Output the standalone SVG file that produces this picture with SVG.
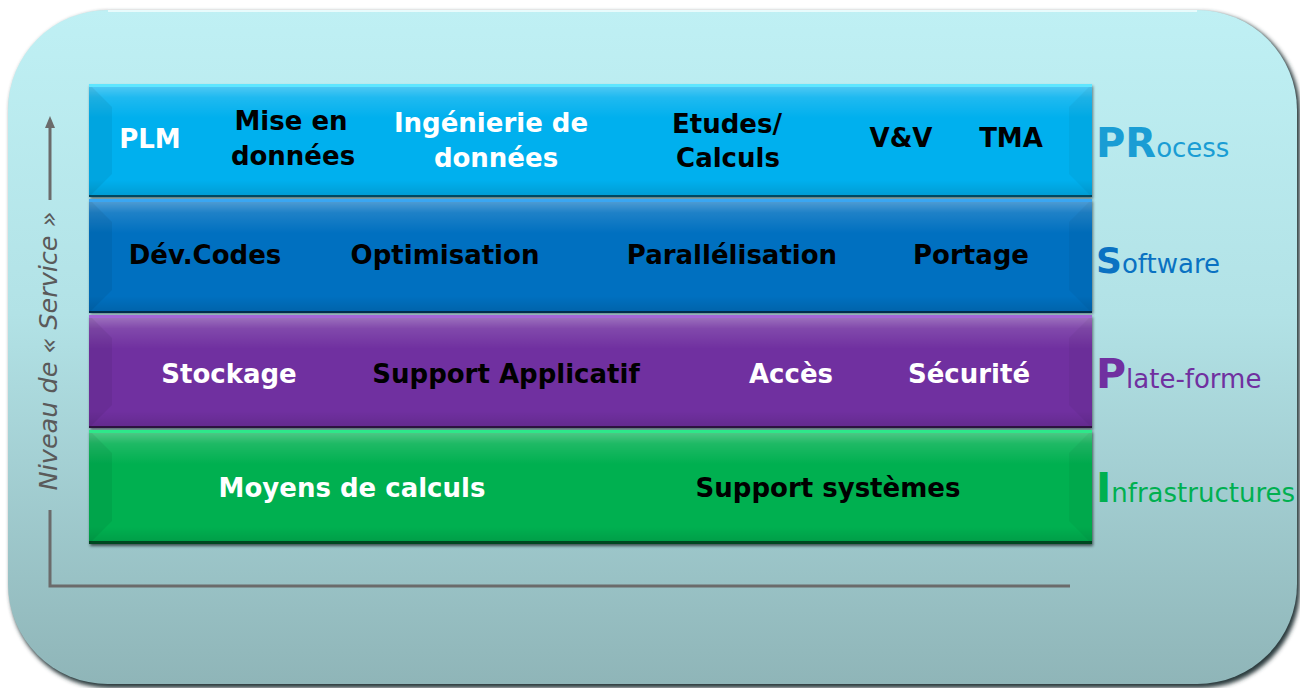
<svg xmlns="http://www.w3.org/2000/svg" width="1300" height="688" viewBox="0 0 1300 688">
  <defs>
    <linearGradient id="bg" x1="0" y1="0" x2="0" y2="1">
      <stop offset="0" stop-color="#bff0f4"/>
      <stop offset="0.45" stop-color="#b2e2e6"/>
      <stop offset="1" stop-color="#8fb5b8"/>
    </linearGradient>
    <linearGradient id="gloss" x1="0" y1="0" x2="0" y2="1">
      <stop offset="0" stop-color="#ffffff" stop-opacity="0.35"/>
      <stop offset="0.12" stop-color="#ffffff" stop-opacity="0.12"/>
      <stop offset="0.3" stop-color="#ffffff" stop-opacity="0"/>
      <stop offset="0.85" stop-color="#000000" stop-opacity="0"/>
      <stop offset="1" stop-color="#000000" stop-opacity="0.12"/>
    </linearGradient>
    <filter id="blur" x="-5%" y="-5%" width="110%" height="110%">
      <feGaussianBlur stdDeviation="2"/>
    </filter>
    <filter id="bandshadow" x="-5%" y="-20%" width="110%" height="140%">
      <feGaussianBlur stdDeviation="1.5"/>
    </filter>
  </defs>
  <style>
    .lbl { font-family: "DejaVu Sans", Verdana, sans-serif; font-weight: bold; font-size: 26px; text-anchor: middle; }
    .w { fill: #ffffff; }
    .k { fill: #000000; }
    .side { font-family: "DejaVu Sans", Verdana, sans-serif; font-size: 26px; }
    .big { font-weight: bold; }
    .axis { stroke: #6b6b6b; stroke-width: 3; fill: none; }
    .edge { fill: #000000; opacity: 0.55; }
    .bevL { fill: #000000; opacity: 0.06; }
    .bevR { fill: #000000; opacity: 0.04; }
  </style>

  <!-- background panel -->
  <g id="panel">
    <rect x="10" y="12" width="1290" height="676" rx="100" ry="100" fill="#2a3a3c" filter="url(#blur)"/>
    <rect x="8" y="10" width="1289" height="674" rx="100" ry="100" fill="url(#bg)"/>
    <path d="M108,11 H1197" stroke="#e8fbfc" stroke-width="2" fill="none"/>
  </g>

  <!-- bands -->
  <g id="band-process">
    <rect x="90" y="86" width="1003" height="113" fill="#000" opacity="0.5" filter="url(#bandshadow)"/>
    <rect x="89" y="84" width="1003" height="113" fill="#00b0ee"/>
    <rect x="89" y="84" width="1003" height="113" fill="url(#gloss)"/>
    <polygon points="89,84 112,107 112,174 89,197" class="bevL"/>
    <polygon points="1092,84 1069,107 1069,174 1092,197" class="bevR"/>
    <rect x="89" y="84" width="1003" height="3" fill="#5fe6ff"/>
    <rect x="89" y="195" width="1003" height="2" class="edge"/>
    <text class="lbl w" x="150" y="148">PLM</text>
    <text class="lbl k" x="291" y="130">Mise en</text>
    <text class="lbl k" x="293" y="165">données</text>
    <text class="lbl w" x="491" y="132">Ingénierie de</text>
    <text class="lbl w" x="496" y="167">données</text>
    <text class="lbl k" x="727" y="133">Etudes/</text>
    <text class="lbl k" x="728" y="167">Calculs</text>
    <text class="lbl k" x="901" y="147">V&amp;V</text>
    <text class="lbl k" x="1011" y="147">TMA</text>
  </g>

  <g id="band-software">
    <rect x="90" y="201" width="1003" height="113" fill="#000" opacity="0.5" filter="url(#bandshadow)"/>
    <rect x="89" y="199" width="1003" height="114" fill="#0070c0"/>
    <rect x="89" y="199" width="1003" height="114" fill="url(#gloss)"/>
    <polygon points="89,199 112,222 112,290 89,313" class="bevL"/>
    <polygon points="1092,199 1069,222 1069,290 1092,313" class="bevR"/>
    <rect x="89" y="199" width="1003" height="3" fill="#3aa6f2"/>
    <rect x="89" y="311" width="1003" height="2" class="edge"/>
    <text class="lbl k" x="205" y="264">Dév.Codes</text>
    <text class="lbl k" x="445" y="264">Optimisation</text>
    <text class="lbl k" x="732" y="264">Parallélisation</text>
    <text class="lbl k" x="971" y="264">Portage</text>
  </g>

  <g id="band-plateforme">
    <rect x="90" y="317" width="1003" height="113" fill="#000" opacity="0.5" filter="url(#bandshadow)"/>
    <rect x="89" y="315" width="1003" height="113" fill="#7030a0"/>
    <rect x="89" y="315" width="1003" height="113" fill="url(#gloss)"/>
    <polygon points="89,315 112,338 112,405 89,428" class="bevL"/>
    <polygon points="1092,315 1069,338 1069,405 1092,428" class="bevR"/>
    <rect x="89" y="315" width="1003" height="3" fill="#a466d6"/>
    <rect x="89" y="426" width="1003" height="2" class="edge"/>
    <text class="lbl w" x="229" y="383">Stockage</text>
    <text class="lbl k" x="506" y="383">Support Applicatif</text>
    <text class="lbl w" x="791" y="383">Accès</text>
    <text class="lbl w" x="969" y="383">Sécurité</text>
  </g>

  <g id="band-infrastructures">
    <rect x="90" y="432" width="1003" height="114" fill="#000" opacity="0.6" filter="url(#bandshadow)"/>
    <rect x="89" y="430" width="1003" height="114" fill="#00b050"/>
    <rect x="89" y="430" width="1003" height="114" fill="url(#gloss)"/>
    <polygon points="89,430 112,453 112,521 89,544" class="bevL"/>
    <polygon points="1092,430 1069,453 1069,521 1092,544" class="bevR"/>
    <rect x="89" y="430" width="1003" height="3" fill="#2ee88a"/>
    <rect x="89" y="541" width="1003" height="3" class="edge"/>
    <text class="lbl w" x="352" y="497">Moyens de calculs</text>
    <text class="lbl k" x="828" y="497">Support systèmes</text>
  </g>

  <!-- side labels -->
  <g id="side-labels">
    <text class="side" x="1096" y="157" fill="#1a9dd4"><tspan class="big" font-size="40">PR</tspan>ocess</text>
    <text class="side" x="1096" y="273" fill="#0a72c2"><tspan class="big" font-size="36">S</tspan>oftware</text>
    <text class="side" x="1096" y="388" fill="#7030a0"><tspan class="big" font-size="41">P</tspan>late-forme</text>
    <text class="side" x="1096" y="502" fill="#00b050"><tspan class="big" font-size="41">I</tspan>nfrastructures</text>
  </g>

  <!-- axis -->
  <g id="connectors">
    <line class="axis" x1="50" y1="126" x2="50" y2="200"/>
    <polygon points="50,116 45,128 55,128" fill="#6b6b6b"/>
    <polyline class="axis" points="50,510 50,586 1070,586"/>
  </g>
  <g id="axis-label">
    <text x="57" y="351" transform="rotate(-90 57 351)" font-family="'DejaVu Sans', Verdana, sans-serif" font-style="italic" font-size="25.5" fill="#5a5a5a" text-anchor="middle">Niveau de « Service »</text>
  </g>
</svg>
